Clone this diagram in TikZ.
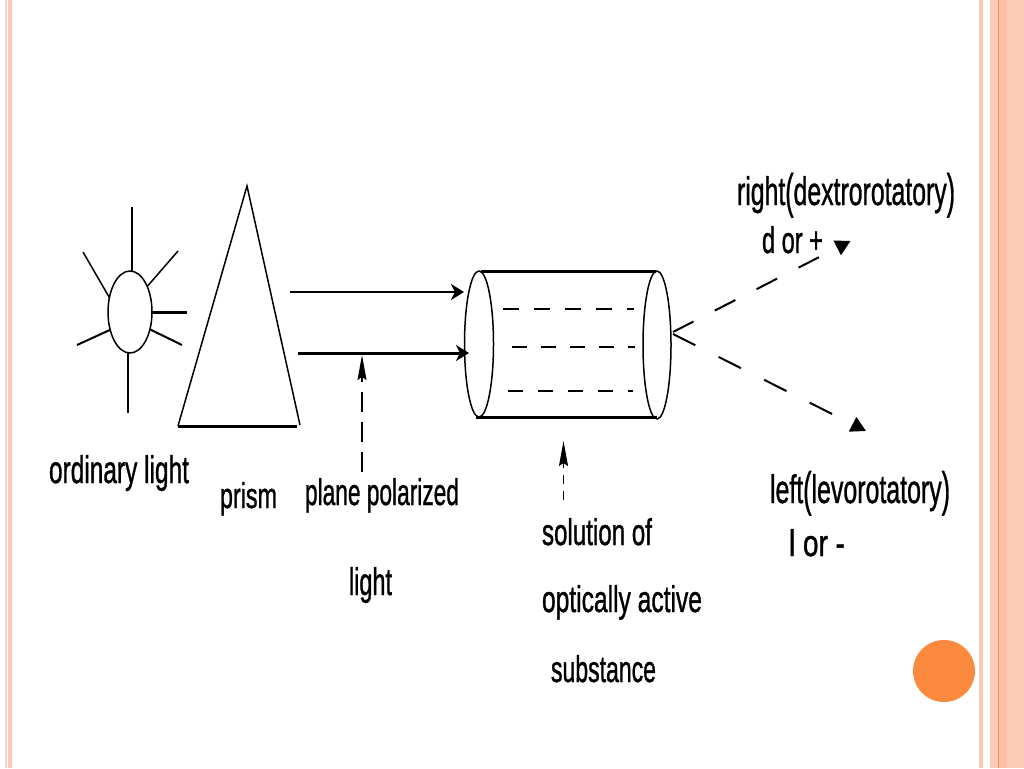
\documentclass[tikz,border=0pt]{standalone}
\usepackage{fontspec}
\usepackage{graphicx}
\setmainfont{Liberation Sans}[FakeBold=1.2]
\usetikzlibrary{arrows.meta,shapes.geometric}
\definecolor{band}{HTML}{FDCBB5}
\definecolor{bandlight}{HTML}{FBD5C8}
\definecolor{banddark}{HTML}{FBC0A5}
\definecolor{bandline}{HTML}{F0935F}
\definecolor{dot}{HTML}{FB8A3F}
\newcommand{\lbl}[6]{\node[lab] (#1) at (#2,#3) {\resizebox{#4pt}{#5pt}{\addfontfeature{FakeBold=1.2}#6}};}
\newcommand{\tallp}[1]{\raisebox{-2pt}{\scalebox{1}[1.2]{#1}}}
\tikzset{
  lab/.style={anchor=base west,inner sep=0pt,outer sep=0pt,font=\fontsize{30}{30}\selectfont,text=black},
  thinl/.style={draw=black,line width=1.5pt},
  midl/.style={draw=black,line width=2pt},
  thickl/.style={draw=black,line width=3pt},
  lens/.style={draw=black,line width=1.5pt,ellipse,inner sep=0pt,outer sep=0pt,fill=none},
  solid head/.style={-{Stealth[length=13pt,width=16pt,inset=4pt]}},
  up head/.style={-{Stealth[length=25pt,width=9pt,inset=3pt]}},
  out head/.style={-{Triangle[length=15pt,width=16pt]}},
}
\begin{document}
\begin{tikzpicture}[x=1pt,y=-1pt]
\useasboundingbox (0,0) rectangle (1024,768);
\fill[white] (0,0) rectangle (1024,768);
% page bands
\fill[bandlight] (5,0) rectangle (7,768);
\fill[band] (8,0) rectangle (12,768);
\fill[band] (979,0) rectangle (983,768);
\fill[band] (990,0) rectangle (998,768);
\fill[bandline] (998,0) rectangle (999,768);
\fill[banddark] (999,0) rectangle (1007,768);
\fill[band] (1007,0) rectangle (1024,768);
\node[circle,fill=dot,draw=none,minimum size=62pt,inner sep=0pt] (dotmark) at (944,671) {};
% sun
\node[lens,minimum width=44pt,minimum height=82pt] (sun) at (130,312) {};
\coordinate (r1) at (132,207);
\coordinate (r2) at (178,251);
\coordinate (r3) at (187,312);
\coordinate (r4) at (182,345);
\coordinate (r5) at (128,413);
\coordinate (r6) at (77,345);
\coordinate (r7) at (83,252);
\draw[midl] (sun.north) ++(2,0) -- (r1);
\draw[thinl] (sun.56) -- (r2);
\draw[thickl] (sun.east) -- (r3);
\draw[midl] (sun.-41) -- (r4);
\draw[thinl] (sun.south) ++(-2,0) -- (r5);
\draw[midl] (sun.222) -- (r6);
\draw[thinl] (sun.145) -- (r7);
% prism
\coordinate (pa) at (247,186);
\coordinate (pl) at (178,426);
\coordinate (pr) at (300,425);
\coordinate (pb) at (297,426);
\draw[thinl] (pl) -- (pa) -- (pr);
\draw[thickl] (pl) -- (pb);
% cylinder
\node[lens,minimum width=29pt,minimum height=146pt] (capl) at (479,344) {};
\node[lens,minimum width=28pt,minimum height=148pt] (capr) at (657,345) {};
\coordinate (ct1) at (481,271);
\coordinate (ct2) at (656,271);
\coordinate (cb1) at (476,417);
\coordinate (cb2) at (657,417);
\draw[thickl] (ct1) -- (ct2);
\draw[thickl] (cb1) -- (cb2);
\coordinate (d1a) at (503,309); \coordinate (d1b) at (634,309);
\coordinate (d2a) at (512,347); \coordinate (d2b) at (635,347);
\coordinate (d3a) at (508,391); \coordinate (d3b) at (633,391);
\draw[midl,dash pattern=on 15.5pt off 15.5pt] (d1a) -- (d1b);
\draw[midl,dash pattern=on 14.5pt off 14.5pt] (d2a) -- (d2b);
\draw[midl,dash pattern=on 15pt off 15pt] (d3a) -- (d3b);
% beams
\coordinate (b1a) at (290,292); \coordinate (b1b) at (464,292);
\coordinate (b2a) at (298,353); \coordinate (b2b) at (469,353);
\draw[midl,solid head] (b1a) -- (b1b);
\draw[thickl,solid head] (b2a) -- (b2b);
% pointers
\coordinate (p1a) at (362,472); \coordinate (p1b) at (362,355);
\draw[thinl,up head,dash pattern=on 20pt off 10pt] (p1a) -- (p1b);
\coordinate (p2a) at (563.5,500); \coordinate (p2b) at (563.5,441);
\draw[draw=black,line width=1pt,up head,dash pattern=on 9pt off 7pt] (p2a) -- (p2b);
% rotated rays
\coordinate (oa) at (673,332); \coordinate (ob) at (850.5,241);
\coordinate (oc) at (673,334); \coordinate (od) at (866,431);
\draw[midl,out head,dash pattern=on 23pt off 24pt] (oa) -- (ob);
\draw[midl,out head,dash pattern=on 25pt off 26pt] (oc) -- (od);
% labels
\lbl{t1}{49}{483}{140}{28}{ordinary light}
\lbl{t2}{220}{508}{57}{26}{prism}
\lbl{t3}{305}{505}{154}{27}{plane polarized}
\lbl{t4}{349}{595}{43}{28}{light}
\lbl{t5}{542}{545}{110}{27}{solution of}
\lbl{t6}{542}{612}{160}{27}{optically active}
\lbl{t7}{551}{682}{105}{27}{substance}
\lbl{t8}{737}{205}{218}{32}{right\tallp{(}dextrorotatory\tallp{)}}
\lbl{t9}{762}{253}{61}{27}{d or +}
\lbl{t10}{770}{503}{180}{32}{left\tallp{(}levorotatory\tallp{)}}
\lbl{t11}{789}{556}{56}{27}{l or -}
\end{tikzpicture}
\end{document}
